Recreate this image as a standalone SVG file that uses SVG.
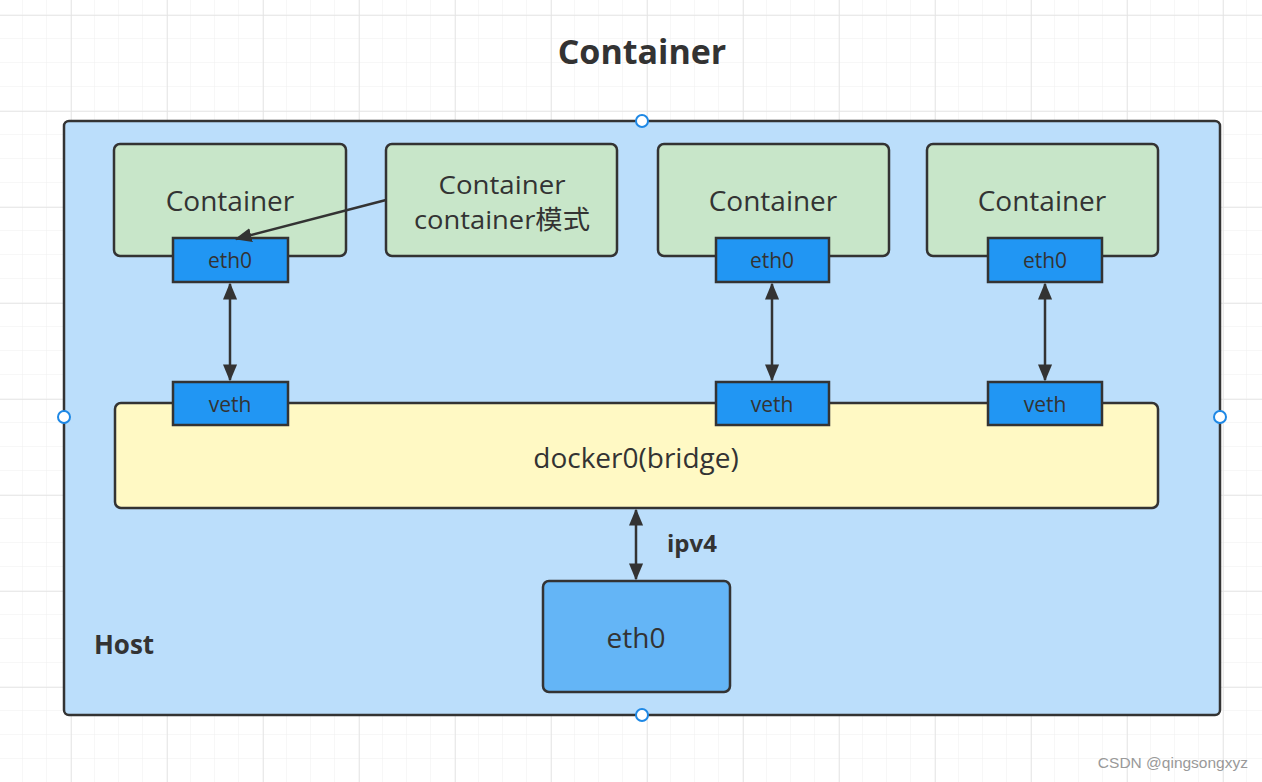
<svg xmlns="http://www.w3.org/2000/svg" width="1262" height="782" viewBox="0 0 1262 782">
<defs>
<pattern id="gmin" width="24" height="24" patternUnits="userSpaceOnUse" x="-1" y="-9">
<path d="M24 0V24M0 24H24" fill="none" stroke="#efefef" stroke-width="1"/>
</pattern>
<pattern id="gmaj" width="96" height="96" patternUnits="userSpaceOnUse" x="-25" y="15">
<path d="M0 0V96M0 0H96" fill="none" stroke="#e4e4e4" stroke-width="1.5"/>
</pattern>
<marker id="arr" viewBox="0 0 12 10" refX="11" refY="5" markerWidth="17" markerHeight="15" orient="auto-start-reverse" markerUnits="userSpaceOnUse">
<path d="M0 0L12 5L0 10z" fill="#333"/>
</marker>
</defs>
<style>
.box{stroke:#333;stroke-width:2.5}
.ct{fill:#c8e6c9}
.port{fill:#2196f3}
.t{font-family:"Open Sans","Noto Sans","Noto Sans CJK SC",sans-serif;fill:#333;text-anchor:middle}
.b{font-weight:bold}
.c{stroke:#333;stroke-width:2.5;fill:none}
.h{fill:#fff;stroke:#1e88e5;stroke-width:2}
</style>
<rect width="1262" height="782" fill="#fff"/>
<rect width="1262" height="782" fill="url(#gmin)"/>
<rect width="1262" height="782" fill="url(#gmaj)"/>
<text class="t b" x="642" y="64" font-size="34">Container</text>
<g id="host">
<rect class="box" x="64" y="121" width="1156" height="594" rx="5" fill="#bbdefb"/>
<text class="t b" x="124" y="654" font-size="26">Host</text>
</g>
<g id="container1">
<rect class="box ct" x="114" y="144" width="232" height="112" rx="6"/>
<text class="t" x="230" y="211" font-size="28">Container</text>
</g>
<g id="container2">
<rect class="box ct" x="386" y="144" width="231" height="112" rx="6"/>
<text class="t" x="502" y="194" font-size="26" textLength="127" lengthAdjust="spacingAndGlyphs">Container</text>
<text class="t" x="502" y="229" font-size="26" textLength="176" lengthAdjust="spacingAndGlyphs">container模式</text>
</g>
<g id="container3">
<rect class="box ct" x="658" y="144" width="231" height="112" rx="6"/>
<text class="t" x="773" y="211" font-size="28">Container</text>
</g>
<g id="container4">
<rect class="box ct" x="927" y="144" width="231" height="112" rx="6"/>
<text class="t" x="1042" y="211" font-size="28">Container</text>
</g>
<g id="eth0-1">
<rect class="box port" x="173" y="238" width="115" height="44"/>
<text class="t" x="230" y="268" font-size="21">eth0</text>
</g>
<g id="eth0-3">
<rect class="box port" x="716" y="238" width="113" height="44"/>
<text class="t" x="772" y="268" font-size="21">eth0</text>
</g>
<g id="eth0-4">
<rect class="box port" x="988" y="238" width="114" height="44"/>
<text class="t" x="1045" y="268" font-size="21">eth0</text>
</g>
<g id="bridge">
<rect class="box" x="115" y="403" width="1043" height="105" rx="6" fill="#fff9c4"/>
<text class="t" x="636" y="468" font-size="28">docker0(bridge)</text>
</g>
<g id="veth-1">
<rect class="box port" x="173" y="382" width="115" height="43"/>
<text class="t" x="230" y="412" font-size="21">veth</text>
</g>
<g id="veth-3">
<rect class="box port" x="716" y="382" width="113" height="43"/>
<text class="t" x="772" y="412" font-size="21">veth</text>
</g>
<g id="veth-4">
<rect class="box port" x="988" y="382" width="114" height="43"/>
<text class="t" x="1045" y="412" font-size="21">veth</text>
</g>
<g id="eth0-host">
<rect class="box" x="543" y="581" width="187" height="111" rx="6" fill="#64b5f6"/>
<text class="t" x="636" y="648" font-size="28">eth0</text>
</g>
<g id="connectors">
<line class="c" x1="230" y1="284" x2="230" y2="380" marker-start="url(#arr)" marker-end="url(#arr)"/>
<line class="c" x1="772" y1="284" x2="772" y2="380" marker-start="url(#arr)" marker-end="url(#arr)"/>
<line class="c" x1="1045" y1="284" x2="1045" y2="380" marker-start="url(#arr)" marker-end="url(#arr)"/>
<line class="c" x1="636" y1="510" x2="636" y2="579" marker-start="url(#arr)" marker-end="url(#arr)"/>
<line class="c" x1="386" y1="200" x2="236" y2="239" marker-end="url(#arr)"/>
<text class="t b" x="692" y="552" font-size="24">ipv4</text>
</g>
<g id="handles">
<circle class="h" cx="642" cy="121" r="6"/>
<circle class="h" cx="64" cy="417" r="6"/>
<circle class="h" cx="1220" cy="417" r="6"/>
<circle class="h" cx="642" cy="715" r="6"/>
</g>
<text x="1248" y="768" font-family="Liberation Sans,sans-serif" font-size="15.5" fill="#999" text-anchor="end">CSDN @qingsongxyz</text>
</svg>
